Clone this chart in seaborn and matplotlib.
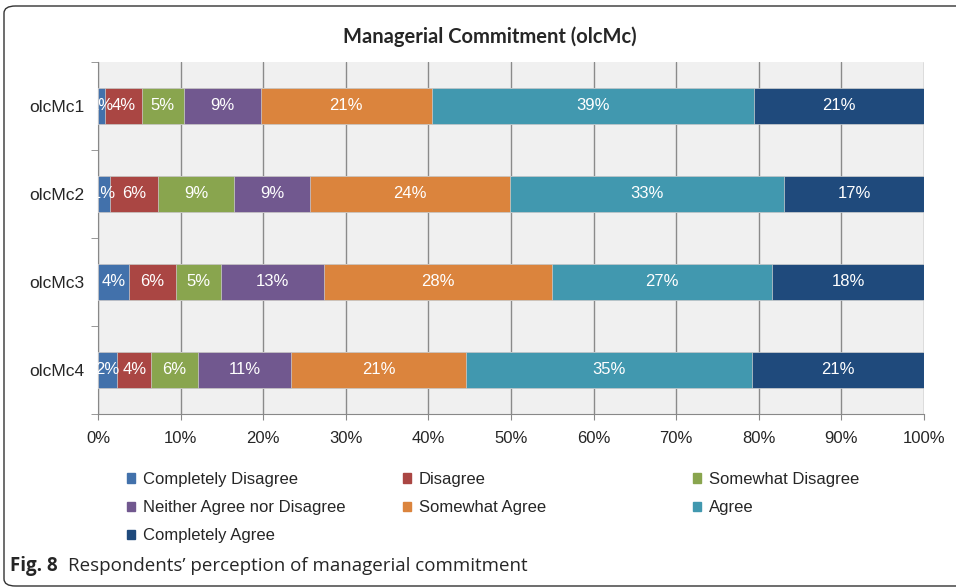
import matplotlib
matplotlib.use("Agg")
import matplotlib.pyplot as plt
import matplotlib.patches as mpatches
import numpy as np
import pandas as pd
import seaborn as sns

# Data (percent of respondents)
items = ["olcMc1", "olcMc2", "olcMc3", "olcMc4"]
levels = ["Completely Disagree", "Disagree", "Somewhat Disagree",
          "Neither Agree nor Disagree", "Somewhat Agree", "Agree",
          "Completely Agree"]
completely_disagree = [0.85, 1.45, 3.7, 2.35]
disagree = [4.45, 5.85, 5.8, 4.1]
somewhat_disagree = [5.1, 9.2, 5.35, 5.6]
neither = [9.3, 9.2, 12.55, 11.35]
somewhat_agree = [20.7, 24.2, 27.6, 21.2]
agree = [39.0, 33.2, 26.6, 34.6]
completely_agree = [20.6, 16.9, 18.4, 20.8]

colors = ["#4271ab", "#aa4643", "#89a54e", "#71588f",
          "#db843d", "#4198af", "#1f4a7c"]

df = pd.DataFrame({
    "item": items,
    levels[0]: completely_disagree,
    levels[1]: disagree,
    levels[2]: somewhat_disagree,
    levels[3]: neither,
    levels[4]: somewhat_agree,
    levels[5]: agree,
    levels[6]: completely_agree,
})
cum = df[levels].cumsum(axis=1)

sns.set_style("white")
plt.rcParams["font.family"] = ["Liberation Sans", "DejaVu Sans"]

fig = plt.figure(figsize=(9.56, 5.88), dpi=100)
ax = fig.add_axes([98 / 956, 1 - 414 / 588, 826 / 956, 352 / 588])
ax.set_facecolor("#f0f0f0")

# stacked bars: draw the longest cumulative layer first
for i in range(len(levels) - 1, -1, -1):
    sns.barplot(x=cum[levels[i]], y=df["item"], orient="h", color=colors[i],
                width=0.4, ax=ax, saturation=1, edgecolor="#d0d0d0",
                linewidth=0.5, zorder=3)

# labels
for r in range(len(items)):
    for i, lv in enumerate(levels):
        v = df[lv].iloc[r]
        center = cum[lv].iloc[r] - v / 2
        ax.text(center, r, f"{round(v):d}%", ha="center", va="center",
                color="white", fontsize=12, zorder=5, clip_on=True)

ax.set_xlim(0, 100)
ax.set_ylim(3.5, -0.5)
ax.set_xticks(np.arange(0, 101, 10))
ax.set_xticklabels([f"{t}%" for t in range(0, 101, 10)], fontsize=12)
ax.tick_params(axis="x", length=4, color="#888888", direction="out",
               pad=8, bottom=True)
ax.tick_params(axis="y", length=0, pad=10, labelsize=12.5)
ax.set_yticks(np.arange(-0.5, 4, 1), minor=True)
ax.tick_params(axis="y", which="minor", length=5, color="#888888",
               direction="out", left=True)
ax.grid(axis="x", color="#8a8a8a", linewidth=1, zorder=0)
ax.set_axisbelow(True)
ax.set_xlabel("")
ax.set_ylabel("")
for s in ["top", "right"]:
    ax.spines[s].set_visible(False)
ax.spines["left"].set_color("#888888")
ax.spines["bottom"].set_color("#888888")

fig.text(490 / 956, 1 - 37 / 588, "Managerial Commitment (olcMc)",
         ha="center", va="center", fontsize=14.5, fontweight="bold",
         family=["Lato", "DejaVu Sans"])

# legend in three columns, row-major order like the original
def handles(idx):
    return [mpatches.Patch(color=colors[k], label=levels[k]) for k in idx]

col_x = [127 / 956, 403 / 956, 693 / 956]
col_idx = [[0, 3, 6], [1, 4], [2, 5]]
for x, idx in zip(col_x, col_idx):
    fig.legend(handles=handles(idx), loc="upper left",
               bbox_to_anchor=(x, 1 - 472 / 588), frameon=False,
               fontsize=12, handlelength=0.5, handleheight=0.5,
               handletextpad=0.45, labelspacing=0.79, borderpad=0,
               borderaxespad=0)

# caption
fig.text(10 / 956, 1 - 566 / 588, "Fig. 8", ha="left", va="center",
         fontsize=13.5, fontweight="bold",
         family=["Open Sans", "DejaVu Sans"])
fig.text(68 / 956, 1 - 566 / 588,
         "Respondents\u2019 perception of managerial commitment",
         ha="left", va="center", fontsize=13.5,
         family=["Open Sans", "DejaVu Sans"])

# outer rounded frame (right and bottom edges run off the picture)
frame = mpatches.FancyBboxPatch((4 / 956, 2 / 588), 980 / 956, 580 / 588,
                                boxstyle="round,pad=0,rounding_size=0.012",
                                transform=fig.transFigure, facecolor="none",
                                edgecolor="#333333", linewidth=1)
fig.patches.append(frame)

fig.savefig("out.png", dpi=100)
